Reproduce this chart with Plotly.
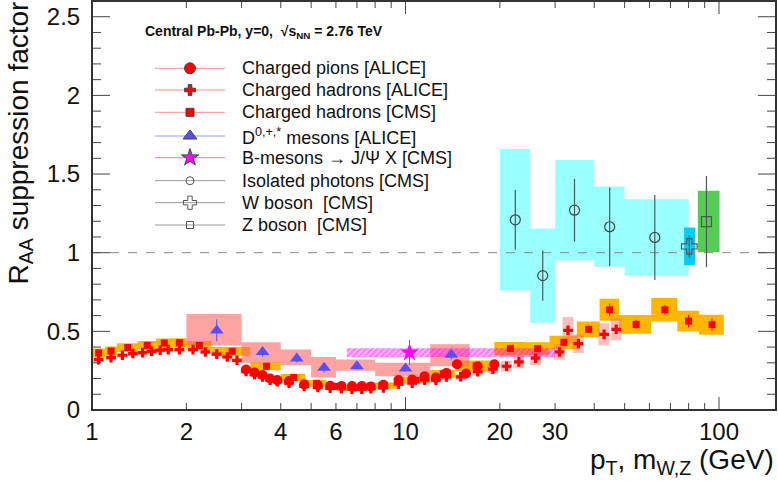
import math
import plotly.graph_objects as go

# ---------------- data ----------------
# CMS charged hadrons
cms_pt = [1.05, 1.15, 1.3, 1.5, 1.7, 1.9, 2.2, 2.8, 3.6, 4.4, 5.2, 6.0, 6.8, 8.4, 10.8, 13.2, 16.8,
          21.6, 26.4, 32.0, 38.4, 44.8, 54.4, 67.2, 80.0, 95.0]
cms_edges = [1.0, 1.1, 1.2, 1.4, 1.6, 1.8, 2.0, 2.4, 3.2, 4.0, 4.8, 5.6, 6.4, 7.2, 9.6, 12.0, 14.4,
             19.2, 24.0, 28.8, 35.2, 41.6, 48.0, 60.8, 73.6, 86.4, 103.6]
cms_raa = [0.363, 0.375, 0.397, 0.411, 0.426, 0.428, 0.41, 0.373, 0.278, 0.207, 0.17, 0.15, 0.14, 0.155,
           0.19, 0.23, 0.28, 0.39, 0.39, 0.43, 0.513, 0.637, 0.544, 0.637, 0.565, 0.542]
cms_sys = [0.028, 0.028, 0.028, 0.028, 0.028, 0.028, 0.028, 0.028, 0.025, 0.022, 0.02, 0.02, 0.02, 0.02,
           0.022, 0.025, 0.035, 0.042, 0.04, 0.042, 0.05, 0.07, 0.06, 0.075, 0.066, 0.063]
cms_stat = [0.004, 0.004, 0.004, 0.004, 0.004, 0.004, 0.004, 0.004, 0.004, 0.004, 0.004, 0.004, 0.004, 0.004,
            0.005, 0.006, 0.008, 0.01, 0.012, 0.015, 0.02, 0.04, 0.03, 0.03, 0.04, 0.04]

# ALICE charged hadrons
ah_pt = [1.05, 1.15, 1.25, 1.35, 1.45, 1.55, 1.65, 1.75, 1.9, 2.1, 2.3, 2.5, 2.7, 2.9, 3.1, 3.3, 3.5, 3.7,
         3.9, 4.25, 4.75, 5.25, 5.75, 6.25, 6.75, 7.25, 7.75, 8.5, 9.5, 10.5, 11.5, 12.5, 13.5, 15.0, 17.0,
         19.0, 21.0, 23.0, 26.0, 31.0, 33.0, 35.6, 43.0, 47.0]
ah_raa = [0.32, 0.333, 0.348, 0.359, 0.365, 0.373, 0.38, 0.384, 0.384, 0.384, 0.369, 0.355, 0.337, 0.316,
          0.245, 0.225, 0.21, 0.19, 0.18, 0.17, 0.15, 0.143, 0.138, 0.135, 0.133, 0.133, 0.135, 0.14, 0.165,
          0.17, 0.19, 0.19, 0.21, 0.211, 0.243, 0.26, 0.278, 0.306, 0.33, 0.369, 0.506, 0.422, 0.481, 0.513]
ah_sys = [0.015, 0.015, 0.015, 0.015, 0.015, 0.015, 0.015, 0.015, 0.015, 0.015, 0.015, 0.015, 0.015, 0.015,
          0.015, 0.015, 0.014, 0.013, 0.012, 0.012, 0.011, 0.011, 0.011, 0.011, 0.011, 0.011, 0.011, 0.012,
          0.013, 0.014, 0.015, 0.016, 0.017, 0.02, 0.025, 0.03, 0.035, 0.04, 0.045, 0.05, 0.085, 0.06, 0.07, 0.07]

# ALICE charged pions
pi_pt = [3.1, 3.3, 3.5, 3.7, 3.9, 4.25, 4.75, 5.25, 5.75, 6.25, 6.75, 7.25, 7.75, 8.5, 9.5, 10.5, 11.5,
         12.5, 13.5, 14.6, 15.6, 17.0, 19.2]
pi_raa = [0.257, 0.238, 0.222, 0.20, 0.19, 0.184, 0.163, 0.158, 0.154, 0.152, 0.152, 0.152, 0.15, 0.16,
          0.19, 0.194, 0.215, 0.207, 0.236, 0.291, 0.232, 0.278, 0.291]
pi_sys = [0.02] * len(pi_pt)

# ALICE D mesons
d_pt = [2.5, 3.5, 4.5, 5.5, 7.0, 10.0, 14.0]
d_edges = [2.0, 3.0, 4.0, 5.0, 6.0, 8.0, 12.0, 16.0]
d_raa = [0.506, 0.369, 0.327, 0.268, 0.278, 0.264, 0.352]
d_stat = [0.07, 0.03, 0.025, 0.03, 0.02, 0.02, 0.03]
d_sys_lo = [0.096, 0.069, 0.042, 0.061, 0.029, 0.049, 0.074]
d_sys_hi = [0.104, 0.061, 0.057, 0.069, 0.043, 0.036, 0.066]

# CMS B -> J/psi
b_pt = [10.3]
b_edges = [6.5, 30.0]
b_raa = [0.365]
b_stat = [0.08]
b_sys = [0.028]

# CMS isolated photons
ph_pt = [22.4, 27.4, 34.6, 44.8, 62.4]
ph_edges = [20.0, 25.0, 30.0, 40.0, 50.0, 80.0]
ph_raa = [1.209, 0.854, 1.27, 1.165, 1.097]
ph_stat = [0.19, 0.16, 0.20, 0.25, 0.27]
ph_sys = [0.45, 0.30, 0.32, 0.255, 0.243]

# CMS W and Z
w_m = [80.4]
w_edges = [77.4, 84.0]
w_raa = [1.04]
w_stat = [0.07]
w_sys = [0.12]
z_m = [91.2]
z_edges = [85.6, 100.4]
z_raa = [1.198]
z_stat = [0.29]
z_sys = [0.195]

x_tick_vals = [1, 2, 3, 4, 5, 6, 7, 8, 9, 10, 20, 30, 40, 50, 60, 70, 80, 90, 100]
x_label_vals = [1, 2, 4, 6, 10, 20, 30, 100]
x_label_text = ["1", "2", "4", "6", "10", "20", "30", "100"]
x_decades = [1, 10, 100]
y_major = [0, 0.5, 1.0, 1.5, 2.0, 2.5]
y_major_text = ["0", "0.5", "1", "1.5", "2", "2.5"]
y_minor = [i / 10 for i in range(0, 27) if i % 5 != 0]

legend_labels = ["Charged pions [ALICE]", "Charged hadrons [ALICE]", "Charged hadrons [CMS]",
                 "D<sup>0,+,*</sup> mesons [ALICE]", "B-mesons \u2192 J/\u03a8 X [CMS]",
                 "Isolated photons [CMS]", "W boson\u00a0 [CMS]", "Z boson\u00a0 [CMS]"]

# ---------------- geometry ----------------
W, H = 778, 487
PL, PR, PT, PB = 92, 776, 1, 410      # plot frame in pixels
PX_PER_DECADE = 313.5
Y_MAX = 2.6
LOG_XMAX = (PR - PL) / PX_PER_DECADE
X_MAX = 10 ** LOG_XMAX
DY_PER_PX = Y_MAX / (PB - PT)


def px(xp):
    return (xp - PL) / (PR - PL)


def py(yp):
    return (PB - yp) / (PB - PT)


def pix_to_x(xp):          # pixel column -> data x (log axis); legend samples / ticks only
    return 10 ** ((xp - PL) / PX_PER_DECADE)


def pix_to_y(yp):          # pixel row -> data y; legend samples only
    return (PB - yp) * DY_PER_PX


def rects(xl, xh, yl, yh):
    xs, ys = [], []
    for a, b, c, d in zip(xl, xh, yl, yh):
        xs += [a, b, b, a, a, None]
        ys += [c, c, d, d, c, None]
    return xs, ys


def box_trace(xl, xh, yl, yh, color, **kw):
    xs, ys = rects(xl, xh, yl, yh)
    return go.Scatter(x=xs, y=ys, mode="lines", fill="toself", fillcolor=color,
                      line=dict(width=0, color=color), hoverinfo="skip", **kw)


fig = go.Figure()

# systematic boxes
fig.add_trace(box_trace(ph_edges[:-1], ph_edges[1:],
                        [r - s for r, s in zip(ph_raa, ph_sys)], [r + s for r, s in zip(ph_raa, ph_sys)],
                        "#99ffff"))
fig.add_trace(box_trace(w_edges[:-1], w_edges[1:], [w_raa[0] - w_sys[0]], [w_raa[0] + w_sys[0]], "#00ccf5"))
fig.add_trace(box_trace(z_edges[:-1], z_edges[1:], [z_raa[0] - z_sys[0]], [z_raa[0] + z_sys[0]], "#55cc55"))
fig.add_trace(box_trace(cms_edges[:-1], cms_edges[1:],
                        [r - s for r, s in zip(cms_raa, cms_sys)], [r + s for r, s in zip(cms_raa, cms_sys)],
                        "#ffb600"))
fig.add_trace(box_trace([p * 0.965 for p in pi_pt], [p * 1.035 for p in pi_pt],
                        [r - s for r, s in zip(pi_raa, pi_sys)], [r + s for r, s in zip(pi_raa, pi_sys)],
                        "rgba(255,190,120,0.45)"))
fig.add_trace(box_trace([p * 0.96 for p in ah_pt], [p * 1.04 for p in ah_pt],
                        [r - s for r, s in zip(ah_raa, ah_sys)], [r + s for r, s in zip(ah_raa, ah_sys)],
                        "rgba(255,110,110,0.45)"))
fig.add_trace(box_trace(d_edges[:-1], d_edges[1:],
                        [r - s for r, s in zip(d_raa, d_sys_lo)], [r + s for r, s in zip(d_raa, d_sys_hi)],
                        "rgba(255,100,100,0.6)"))
bx, by = rects(b_edges[:-1], b_edges[1:], [b_raa[0] - b_sys[0]], [b_raa[0] + b_sys[0]])
fig.add_trace(go.Scatter(x=bx, y=by, mode="lines", fill="toself", fillcolor="rgba(0,0,0,0)",
                         line=dict(width=0), hoverinfo="skip",
                         fillpattern=dict(shape="/", fgcolor="#ff00ff", bgcolor="rgba(0,0,0,0)",
                                          size=4, solidity=0.8)))

# dashed unity line
fig.add_trace(go.Scatter(x=[1, X_MAX], y=[1, 1], mode="lines",
                         line=dict(color="#888", width=1, dash="dash"), hoverinfo="skip"))

# markers
fig.add_trace(go.Scatter(x=ph_pt, y=ph_raa, mode="markers",
                         marker=dict(symbol="circle-open", size=10, color="#444", line=dict(width=1.2)),
                         error_y=dict(array=ph_stat, color="#555", thickness=1.2, width=0)))
fig.add_trace(go.Scatter(x=w_m, y=w_raa, mode="markers",
                         marker=dict(symbol="cross-open", size=13, color="#555", line=dict(width=1.2)),
                         error_y=dict(array=w_stat, color="#555", thickness=1.2, width=0)))
fig.add_trace(go.Scatter(x=z_m, y=z_raa, mode="markers",
                         marker=dict(symbol="square-open", size=10, color="#555", line=dict(width=1.2)),
                         error_y=dict(array=z_stat, color="#555", thickness=1.2, width=0)))
fig.add_trace(go.Scatter(x=cms_pt, y=cms_raa, mode="markers",
                         marker=dict(symbol="square", size=7, color="#ff0000"),
                         error_y=dict(array=cms_stat, color="#ff0000", thickness=1, width=0)))
fig.add_trace(go.Scatter(x=ah_pt, y=ah_raa, mode="markers",
                         marker=dict(symbol="cross", size=8, color="#ff0000")))
fig.add_trace(go.Scatter(x=pi_pt, y=pi_raa, mode="markers",
                         marker=dict(symbol="circle", size=10, color="#ff0000")))
fig.add_trace(go.Scatter(x=d_pt, y=d_raa, mode="markers",
                         marker=dict(symbol="triangle-up", size=12, color="#5a4cff"),
                         error_y=dict(array=d_stat, color="#5a4cff", thickness=1, width=0)))
fig.add_trace(go.Scatter(x=b_pt, y=b_raa, mode="markers",
                         marker=dict(symbol="star", size=14, color="#ff00ff"),
                         error_y=dict(array=b_stat, color="#ff00ff", thickness=1, width=0)))

# ---------------- ticks and frame (ROOT style, inside, mirrored) ----------------
tx, ty = [], []
for v in x_tick_vals:
    ln = (13 if v in x_decades else 7) * DY_PER_PX
    tx += [v, v, None, v, v, None]
    ty += [0, ln, None, Y_MAX, Y_MAX - ln, None]
for v in y_major + y_minor:
    ln = 18 if v in y_major else 9
    tx += [1, pix_to_x(PL + ln), None, X_MAX, pix_to_x(PR - ln), None]
    ty += [v, v, None, v, v, None]
fig.add_trace(go.Scatter(x=tx, y=ty, mode="lines", line=dict(color="#444", width=1), hoverinfo="skip"))
fig.add_trace(go.Scatter(x=[1, X_MAX, X_MAX, 1, 1], y=[0, 0, Y_MAX, Y_MAX, 0], mode="lines",
                         line=dict(color="#333", width=2), hoverinfo="skip"))

# ---------------- legend (drawn manually) ----------------
leg_rows = [68.3, 90.0, 112.3, 136.0, 157.7, 180.7, 202.7, 225.0]
leg_line_col = ["#ff9090", "#ff9090", "#ff9090", "#9a9aff", "#ff66ff", "#999999", "#999999", "#999999"]
leg_sym = ["circle", "cross", "square", "triangle-up", "star", "circle-open", "cross-open", "square-open"]
leg_col = ["#ff0000", "#ff0000", "#ff0000", "#5a4cff", "#ff00ff", "#555", "#555", "#555"]
leg_size = [11, 9, 8, 12, 13, 8, 11, 7]
for yy, lc, sy, mc, ms in zip(leg_rows, leg_line_col, leg_sym, leg_col, leg_size):
    fig.add_trace(go.Scatter(x=[pix_to_x(155), pix_to_x(225)], y=[pix_to_y(yy)] * 2, mode="lines",
                             line=dict(color=lc, width=1), hoverinfo="skip"))
    fig.add_trace(go.Scatter(x=[pix_to_x(190)], y=[pix_to_y(yy)], mode="markers",
                             marker=dict(symbol=sy, size=ms, color=mc, line=dict(width=1)),
                             hoverinfo="skip"))

annotations = []
for yy, txt in zip(leg_rows, legend_labels):
    annotations.append(dict(x=px(240), y=py(yy), xref="paper", yref="paper", text=txt, showarrow=False,
                            xanchor="left", yanchor="middle", font=dict(size=18, color="#111")))
annotations.append(dict(x=px(143), y=py(32), xref="paper", yref="paper",
                        text="<b>Central Pb-Pb, y=0,  \u221as<sub>NN</sub> = 2.76 TeV</b>",
                        showarrow=False, xanchor="left", yanchor="middle", font=dict(size=14, color="#111")))
annotations.append(dict(x=px(20), y=py(0), xref="paper", yref="paper", text="R<sub>AA</sub> suppression factor",
                        textangle=-90, showarrow=False, xanchor="center", yanchor="top",
                        font=dict(size=28, color="#111")))
annotations.append(dict(x=px(776), y=py(462), xref="paper", yref="paper",
                        text="p<sub>T</sub>, m<sub>W,Z</sub> (GeV)",
                        showarrow=False, xanchor="right", yanchor="middle", font=dict(size=28, color="#111")))

fig.update_layout(
    width=W, height=H, margin=dict(l=PL, r=W - PR, t=PT, b=H - PB, autoexpand=False),
    plot_bgcolor="white", paper_bgcolor="white", showlegend=False,
    font=dict(family="Liberation Sans, Arial, sans-serif", color="#111"),
    annotations=annotations,
    xaxis=dict(type="log", range=[0, LOG_XMAX], autorange=False, tickmode="array", tickvals=x_label_vals,
               ticktext=x_label_text, ticks="", showline=True, linecolor="#333", linewidth=1, mirror=True,
               showgrid=False, zeroline=False, tickfont=dict(size=24), automargin=False),
    yaxis=dict(range=[0, Y_MAX], autorange=False, tickmode="array", tickvals=y_major,
               ticktext=y_major_text, ticks="", showline=True, linecolor="#333",
               linewidth=1, mirror=True, showgrid=False, zeroline=False, tickfont=dict(size=24),
               automargin=False, ticklabelstandoff=6),
)

fig.write_html("out.html", config={"displayModeBar": False})
with open("out.html", encoding="utf-8") as f:
    html = f.read()
html = html.replace("<head>", "<head><style>html,body{margin:0;padding:0;overflow:hidden;}</style>", 1)
with open("out.html", "w", encoding="utf-8") as f:
    f.write(html)
